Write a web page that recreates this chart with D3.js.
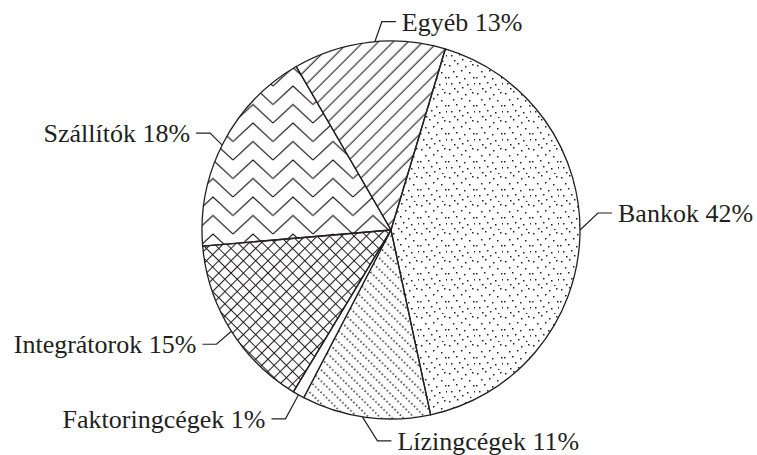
<!DOCTYPE html>
<html>
<head>
<meta charset="utf-8">
<script src="https://cdn.jsdelivr.net/npm/d3@7"></script>
<style>
body { margin: 0; background: #fff; }
svg { font-family: "Times New Roman", "Liberation Serif", Tinos, serif; }
</style>
</head>
<body>
<script>
// data
var labels = ["Bankok", "Lízingcégek", "Faktoringcégek", "Integrátorok", "Szállítók", "Egyéb"];
var shares = [42, 11, 1, 15, 18, 13];
var fills = ["url(#dots)", "url(#dotlines)", "#fff", "url(#cross)", "url(#zigzag)", "url(#hatch)"];

// leader line layout: nudge of the anchor angle (deg), knee offset, side of the text
var leaders = [
	{nudge: -2.3, dx: 18, dy: -17, side: 1},
	{nudge: 1, dx: 15, dy: 24, side: 1},
	{nudge: 0, dx: -13, dy: 24, side: -1},
	{nudge: -0.5, dx: -15, dy: 13, side: -1},
	{nudge: -0.8, dx: -12, dy: -12, side: -1},
	{nudge: 1.8, dx: 7, dy: -20, side: 1}
];

var width = 757, height = 455;
var cx = 391, cy = 230, radius = 189;
var startDeg = 16.7;
var ink = "#231f20";

var svg = d3.select("body").append("svg")
	.attr("width", width)
	.attr("height", height);

var defs = svg.append("defs");

// stipple for Bankok
var dotSpots = [[2,3],[10,1],[18,4],[25,2],[6,9],[14,8],[22,10],[1,15],[9,14],[17,16],[26,15],[4,21],[12,20],[20,22],[27,21],[7,26],[15,25],[23,27]];
var pd = defs.append("pattern").attr("id", "dots")
	.attr("patternUnits", "userSpaceOnUse")
	.attr("width", 28).attr("height", 28);
pd.selectAll("rect").data(dotSpots).enter().append("rect")
	.attr("x", function(d) { return d[0]; })
	.attr("y", function(d) { return d[1]; })
	.attr("width", 1.5).attr("height", 1.5)
	.attr("fill", "#222");

// dotted diagonal lines for Lízingcégek
var pl = defs.append("pattern").attr("id", "dotlines")
	.attr("patternUnits", "userSpaceOnUse")
	.attr("width", 8).attr("height", 3.8)
	.attr("patternTransform", "rotate(-45)");
pl.append("rect").attr("x", 3).attr("y", 0).attr("width", 1.5).attr("height", 1.5).attr("fill", "#222");

// cross hatch for Integrátorok
var pc = defs.append("pattern").attr("id", "cross")
	.attr("patternUnits", "userSpaceOnUse")
	.attr("width", 8.7).attr("height", 8.7)
	.attr("patternTransform", "rotate(45)");
pc.append("path").attr("d", "M4.35,0V8.7M0,4.35H8.7")
	.attr("stroke", ink).attr("stroke-width", 1.1).attr("fill", "none");

// zigzag for Szállítók
var zh = 18.5;
var pz = defs.append("pattern").attr("id", "zigzag")
	.attr("patternUnits", "userSpaceOnUse")
	.attr("width", 40).attr("height", zh)
	.attr("x", 2).attr("y", 4);
[-zh, 0, zh].forEach(function(off) {
	pz.append("path")
		.attr("d", "M0," + (zh + off) + "L20," + off + "L40," + (zh + off))
		.attr("stroke", ink).attr("stroke-width", 1.2).attr("fill", "none");
});

// single hatch for Egyéb
var ph = defs.append("pattern").attr("id", "hatch")
	.attr("patternUnits", "userSpaceOnUse")
	.attr("width", 10.5).attr("height", 10)
	.attr("patternTransform", "rotate(45)");
ph.append("line").attr("x1", 5).attr("y1", 0).attr("x2", 5).attr("y2", 10)
	.attr("stroke", ink).attr("stroke-width", 1.1);

var rad = Math.PI / 180;
var pie = d3.pie().sort(null)
	.startAngle(startDeg * rad)
	.endAngle(startDeg * rad + 2 * Math.PI);

var arcs = pie(shares);

var arc = d3.arc().innerRadius(0).outerRadius(radius);

var g = svg.append("g")
	.attr("transform", "translate(" + cx + "," + cy + ")");

g.selectAll(".slice")
	.data(arcs)
	.enter().append("path")
	.attr("class", "slice")
	.attr("d", arc)
	.attr("fill", function(d, i) { return fills[i]; })
	.attr("stroke", ink)
	.attr("stroke-width", 1.3)
	.attr("stroke-linejoin", "round");

// leader geometry from each slice's mid angle
var marks = arcs.map(function(d, i) {
	var L = leaders[i];
	var a = (d.startAngle + d.endAngle) / 2 + L.nudge * rad;
	var ax = cx + Math.sin(a) * radius, ay = cy - Math.cos(a) * radius;
	var kx = ax + L.dx, ky = ay + L.dy;
	return {ax: ax, ay: ay, kx: kx, ky: ky, ex: kx + L.side * 14, side: L.side, i: i};
});

svg.selectAll(".leader")
	.data(marks)
	.enter().append("path")
	.attr("class", "leader")
	.attr("d", function(m) { return "M" + m.ax + "," + m.ay + "L" + m.kx + "," + m.ky + "L" + m.ex + "," + m.ky; })
	.attr("fill", "none")
	.attr("stroke", ink)
	.attr("stroke-width", 1.2);

svg.selectAll(".lbl")
	.data(marks)
	.enter().append("text")
	.attr("class", "lbl")
	.attr("x", function(m) { return m.ex + m.side * 6; })
	.attr("y", function(m) { return m.ky + 9; })
	.attr("text-anchor", function(m) { return m.side > 0 ? "start" : "end"; })
	.style("font-size", "26px")
	.attr("fill", ink)
	.text(function(m) { return labels[m.i] + " " + shares[m.i] + "%"; });
</script>
</body>
</html>
